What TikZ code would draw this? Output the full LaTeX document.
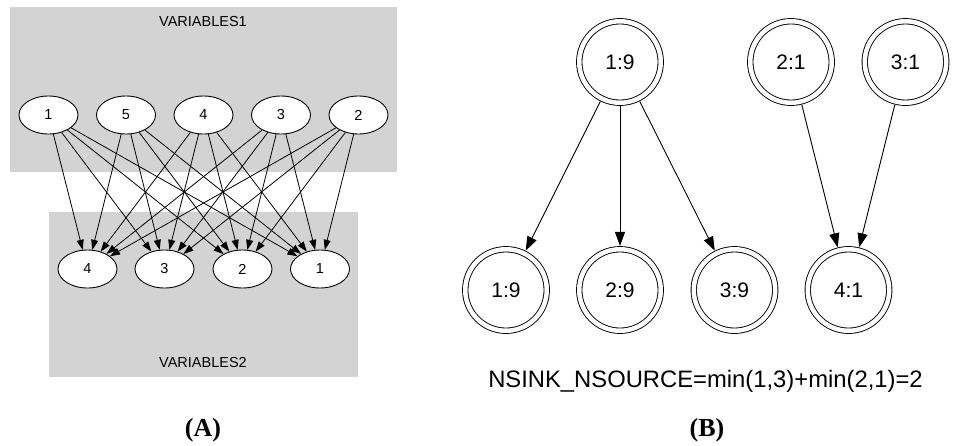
\documentclass[tikz,border=0pt]{standalone}
\usepackage{fontspec}
\setmainfont{Liberation Sans}
\newfontfamily\capserif{Liberation Serif}
\usetikzlibrary{arrows.meta,shapes.geometric}
\definecolor{clustergray}{RGB}{211,211,211}
\tikzset{
  cluster/.style={fill=clustergray, draw=none},
  clabel/.style={font=\fontsize{14.5pt}{16pt}\selectfont},
  varnode/.style={ellipse, draw, fill=white, line width=0.9pt, minimum width=59pt, minimum height=38pt, inner sep=0pt, font=\fontsize{14.5pt}{16pt}\selectfont},
  arcA/.style={line width=0.8pt, -{Triangle[length=10pt,width=7pt]}},
  dcirc/.style={circle, draw, line width=0.9pt, double, double distance=4.5pt, minimum size=81.5pt, inner sep=0pt, outer sep=3.3pt, font=\fontsize{21pt}{24pt}\selectfont},
  arcB/.style={line width=0.9pt, -{Triangle[length=14pt,width=10pt]}},
  panel/.style={font=\capserif\bfseries\fontsize{26pt}{30pt}\selectfont, anchor=base}
}
\begin{document}
\begin{tikzpicture}[x=1pt,y=-1pt]
\useasboundingbox (0,0) rectangle (953,445);
% Panel A clusters
\fill[cluster] (10,7) rectangle (397,172);
\fill[cluster] (49,212) rectangle (358,377);
\node[clabel] (v1lab) at (203,22) {VARIABLES1};
\node[clabel] (v2lab) at (203,363) {VARIABLES2};
% top nodes
\node[varnode] (t1) at (48.5,115) {1};
\node[varnode] (t5) at (126,115) {5};
\node[varnode] (t4) at (203.5,115) {4};
\node[varnode] (t3) at (281,115) {3};
\node[varnode] (t2) at (358.5,115) {2};
% bottom nodes
\node[varnode] (b4) at (87.5,269) {4};
\node[varnode] (b3) at (164.5,269) {3};
\node[varnode] (b2) at (242.5,269) {2};
\node[varnode] (b1) at (320,269) {1};
\foreach \s in {t1,t5,t4,t3,t2}{
  \foreach \t in {b4,b3,b2,b1}{
    \draw[arcA] (\s) -- (\t);
  }
}
% Panel B
\node[dcirc] (s19) at (620,62) {1:9};
\node[dcirc] (s21) at (791,62) {2:1};
\node[dcirc] (s31) at (905.5,62) {3:1};
\node[dcirc] (d19) at (506,290) {1:9};
\node[dcirc] (d29) at (620,290) {2:9};
\node[dcirc] (d39) at (734.5,290) {3:9};
\node[dcirc] (d41) at (848.5,290) {4:1};
\draw[arcB] (s19) -- (d19);
\draw[arcB] (s19) -- (d29);
\draw[arcB] (s19) -- (d39);
\draw[arcB] (s21) -- (d41);
\draw[arcB] (s31) -- (d41);
\node[font=\fontsize{23.8pt}{26pt}\selectfont] (formula) at (705.5,381) {NSINK\_NSOURCE=min(1,3)+min(2,1)=2};
% panel labels
\node[panel] (pa) at (203,436) {(A)};
\node[panel] (pb) at (707,436) {(B)};
\end{tikzpicture}
\end{document}
